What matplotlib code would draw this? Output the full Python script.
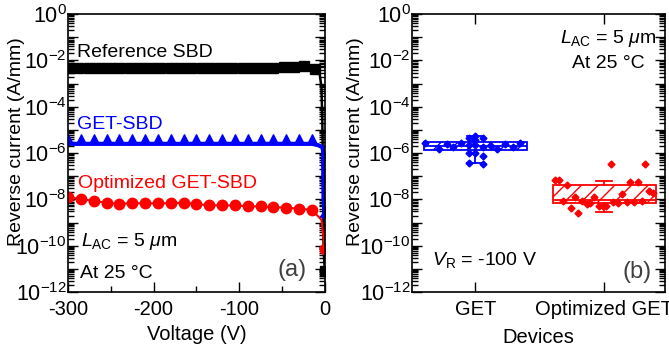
import numpy as np
import matplotlib
matplotlib.use('Agg')
import matplotlib.pyplot as plt
from matplotlib.ticker import LogLocator, FuncFormatter, MultipleLocator, NullFormatter
from matplotlib.path import Path

plt.rcParams['font.family'] = ['Liberation Sans', 'DejaVu Sans']
plt.rcParams['mathtext.fontset'] = 'custom'
plt.rcParams['mathtext.rm'] = 'Liberation Sans'
plt.rcParams['mathtext.it'] = 'Liberation Sans:italic'
plt.rcParams['mathtext.bf'] = 'Liberation Sans:bold'
plt.rcParams['axes.unicode_minus'] = False

# ---- panel (a): I-V curves ----
ref_v = [-300, -288, -276, -264, -252, -240, -228, -216, -204, -192, -180, -168, -156,
         -144, -132, -120, -108, -96, -84, -72, -60, -48, -36, -24, -12,
         -6, -4, -3, -2.5, -2, -1.5, -1, 0]
ref_i = [4.6e-3, 4.6e-3, 4.6e-3, 4.6e-3, 4.6e-3, 4.6e-3, 4.6e-3, 4.6e-3, 4.6e-3, 4.6e-3,
         4.6e-3, 4.6e-3, 4.6e-3, 4.6e-3, 4.6e-3, 4.6e-3, 4.6e-3, 4.7e-3, 4.8e-3, 4.8e-3,
         4.9e-3, 5.0e-3, 5.2e-3, 5.7e-3, 4.2e-3,
         2.5e-3, 7e-4, 3e-5, 1e-6, 1e-8, 1e-10, 3e-11, 8e-12]
ref_marks = list(range(25)) + [32]

get_v = [-300, -285, -270, -255, -240, -225, -210, -195, -180, -165, -150, -135, -120,
         -105, -90, -75, -60, -45, -30, -15, -8, -3, -2, -1.5, 0]
get_i = [2.5e-6, 2.5e-6, 2.5e-6, 2.5e-6, 2.5e-6, 2.5e-6, 2.5e-6, 2.5e-6, 2.5e-6, 2.5e-6,
         2.5e-6, 2.5e-6, 2.5e-6, 2.5e-6, 2.5e-6, 2.5e-6, 2.5e-6, 2.5e-6, 2.5e-6, 2.5e-6,
         2.2e-6, 1.8e-6, 1.2e-6, 1e-8, 1.7e-9]
get_marks = list(range(20)) + [24]

opt_v = [-300, -285, -270, -255, -240, -225, -210, -195, -180, -165, -150, -135, -120,
         -105, -90, -75, -60, -45, -30, -15, -4, -2, 0]
opt_i = [1.3e-8, 1.0e-8, 8.8e-9, 7.0e-9, 6.5e-9, 6.8e-9, 6.8e-9, 6.8e-9, 6.8e-9, 7.2e-9,
         6.2e-9, 5.6e-9, 5.5e-9, 5.5e-9, 5.0e-9, 5.0e-9, 4.6e-9, 4.4e-9, 3.9e-9, 3.5e-9,
         1.3e-9, 3e-10, 7e-11]
opt_marks = list(range(20)) + [22]

# ---- panel (b): leakage at -100 V ----
get_x = [0.61, 0.72, 0.78, 0.83, 0.89, 0.95, 0.95, 0.95, 0.95, 1.00, 1.00, 1.00, 1.00,
         1.06, 1.06, 1.06, 1.06, 1.12, 1.17, 1.23, 1.29, 1.35]
get_y = [2.7e-6, 1.5e-6, 2.5e-6, 1.8e-6, 2.6e-6, 4.4e-6, 2.2e-6, 1.0e-6, 3.8e-7, 5.5e-6,
         3.6e-6, 2.2e-6, 1.0e-6, 4.3e-6, 1.9e-6, 7.5e-7, 3.5e-7, 2.1e-6, 1.5e-6, 2.5e-6,
         1.9e-6, 2.8e-6]
opt_x = [1.62, 1.65, 1.71, 1.68, 1.74, 1.77, 1.80, 1.83, 1.87, 1.89, 1.92, 1.96, 1.99,
         2.01, 2.05, 2.07, 2.11, 2.14, 2.18, 2.20, 2.23, 2.26, 2.29, 2.32, 2.35, 2.38]
opt_y = [6.9e-8, 6.9e-8, 4.2e-8, 8.7e-9, 4.1e-9, 1.23e-8, 2.6e-9, 8.7e-9, 6.3e-9, 7.2e-9,
         1.3e-8, 5.1e-9, 5.1e-9, 5.1e-9, 3.4e-7, 7.9e-9, 6.8e-9, 1.7e-8, 7.9e-9, 5.8e-8,
         7.9e-9, 5.8e-8, 8.7e-9, 3.4e-7, 2.4e-8, 1.9e-8]
get_box = dict(q1=1.35e-6, med=2.1e-6, q3=3.0e-6, whislo=3.6e-7, whishi=5.5e-6, fliers=[])
opt_box = dict(q1=6.8e-9, med=9.3e-9, q3=4.2e-8, whislo=2.9e-9, whishi=6.4e-8, fliers=[])
devices = ['GET', 'Optimized GET']


def log_fmt(y, pos):
    e = int(round(np.log10(y)))
    if e % 2:
        return ''
    return r'$10^{%d}$' % e


def style_log_y(ax, label_x):
    ax.set_yscale('log')
    ax.set_ylim(1e-12, 1)
    ax.yaxis.set_major_locator(LogLocator(base=10, numticks=100))
    ax.yaxis.set_minor_locator(LogLocator(base=10, subs=np.arange(2, 10), numticks=100))
    ax.yaxis.set_major_formatter(FuncFormatter(log_fmt))
    ax.yaxis.set_minor_formatter(NullFormatter())
    ax.tick_params(which='both', direction='in', right=True, width=1)
    ax.tick_params(axis='y', labelsize=15.5, pad=1)
    ax.tick_params(axis='x', labelsize=14.5, pad=6)
    ax.tick_params(which='major', length=7)
    ax.tick_params(which='minor', length=4)
    for s in ax.spines.values():
        s.set_linewidth(1.2)
    ax.set_ylabel('Reverse current (A/mm)', fontsize=14)
    ax.yaxis.set_label_coords(label_x, 0.54)


fig = plt.figure(figsize=(6.69, 3.5), dpi=100)
ax1 = fig.add_axes([0.1016, 0.1657, 0.384, 0.794])
ax2 = fig.add_axes([0.6158, 0.1657, 0.378, 0.794])

# triangle with its base on the data point
tri = Path([(0, 1), (-0.5, 0), (0.5, 0), (0, 1)],
           [Path.MOVETO, Path.LINETO, Path.LINETO, Path.CLOSEPOLY])

ax1.plot(ref_v, ref_i, '-', color='black', lw=1.8, marker='s', ms=6.5,
         markevery=ref_marks)
ax1.plot(get_v, get_i, '-', color='blue', lw=3, marker=tri, ms=14,
         markevery=get_marks)
ax1.plot(opt_v, opt_i, '-', color='red', lw=1.5, marker='o', ms=7.5,
         markevery=opt_marks)
style_log_y(ax1, -0.169)
ax1.set_xlim(-300, 0)
ax1.set_xticks([-300, -200, -100, 0])
ax1.xaxis.set_minor_locator(MultipleLocator(50))
ax1.set_xlabel('Voltage (V)', fontsize=14.5, labelpad=4)

t = ax1.transAxes
ax1.text(0.035, 0.863, 'Reference SBD', transform=t, fontsize=14, va='center')
ax1.text(0.035, 0.604, 'GET-SBD', transform=t, fontsize=14, va='center', color='blue')
ax1.text(0.04, 0.392, 'Optimized GET-SBD', transform=t, fontsize=14, va='center',
         color='red')
ax1.text(0.05, 0.18, r'$L_{\mathrm{AC}}$ = 5 $\mu$m', transform=t, fontsize=14,
         va='center')
ax1.text(0.045, 0.068, 'At 25 °C', transform=t, fontsize=14, va='center')
ax1.text(0.872, 0.079, '(a)', transform=t, fontsize=17, va='center', ha='center',
         color='#404040')

# panel (b)
for pos, st, c in [(1, get_box, 'blue'), (2, opt_box, 'red')]:
    bp = ax2.bxp([st], positions=[pos], widths=0.8, patch_artist=True,
                 showfliers=False, capwidths=0.12,
                 boxprops=dict(facecolor='white', edgecolor=c, lw=1.3, hatch='//'),
                 medianprops=dict(color=c, lw=1.3),
                 whiskerprops=dict(color=c, lw=1.3),
                 capprops=dict(color=c, lw=1.3))
ax2.plot(get_x, get_y, 'D', color='blue', ms=3.5, zorder=5)
ax2.plot(opt_x, opt_y, 'D', color='red', ms=3.5, zorder=5)
style_log_y(ax2, -0.188)
ax2.set_xlim(0.51, 2.47)
ax2.set_xticks([1, 2])
ax2.set_xticklabels(devices)
ax2.xaxis.set_minor_locator(plt.NullLocator())
ax2.tick_params(axis='x', top=True)
ax2.set_xlabel('Devices', fontsize=14.5, labelpad=6)

t = ax2.transAxes
ax2.text(0.775, 0.914, r'$L_{\mathrm{AC}}$ = 5 $\mu$m', transform=t, fontsize=14,
         va='center', ha='center')
ax2.text(0.775, 0.824, 'At 25 °C', transform=t, fontsize=14, va='center', ha='center')
ax2.text(0.079, 0.115, r'$V_{\mathrm{R}}$ = -100 V', transform=t, fontsize=14,
         va='center')
ax2.text(0.889, 0.072, '(b)', transform=t, fontsize=17, va='center', ha='center',
         color='#404040')

fig.savefig('out.png', dpi=100)
